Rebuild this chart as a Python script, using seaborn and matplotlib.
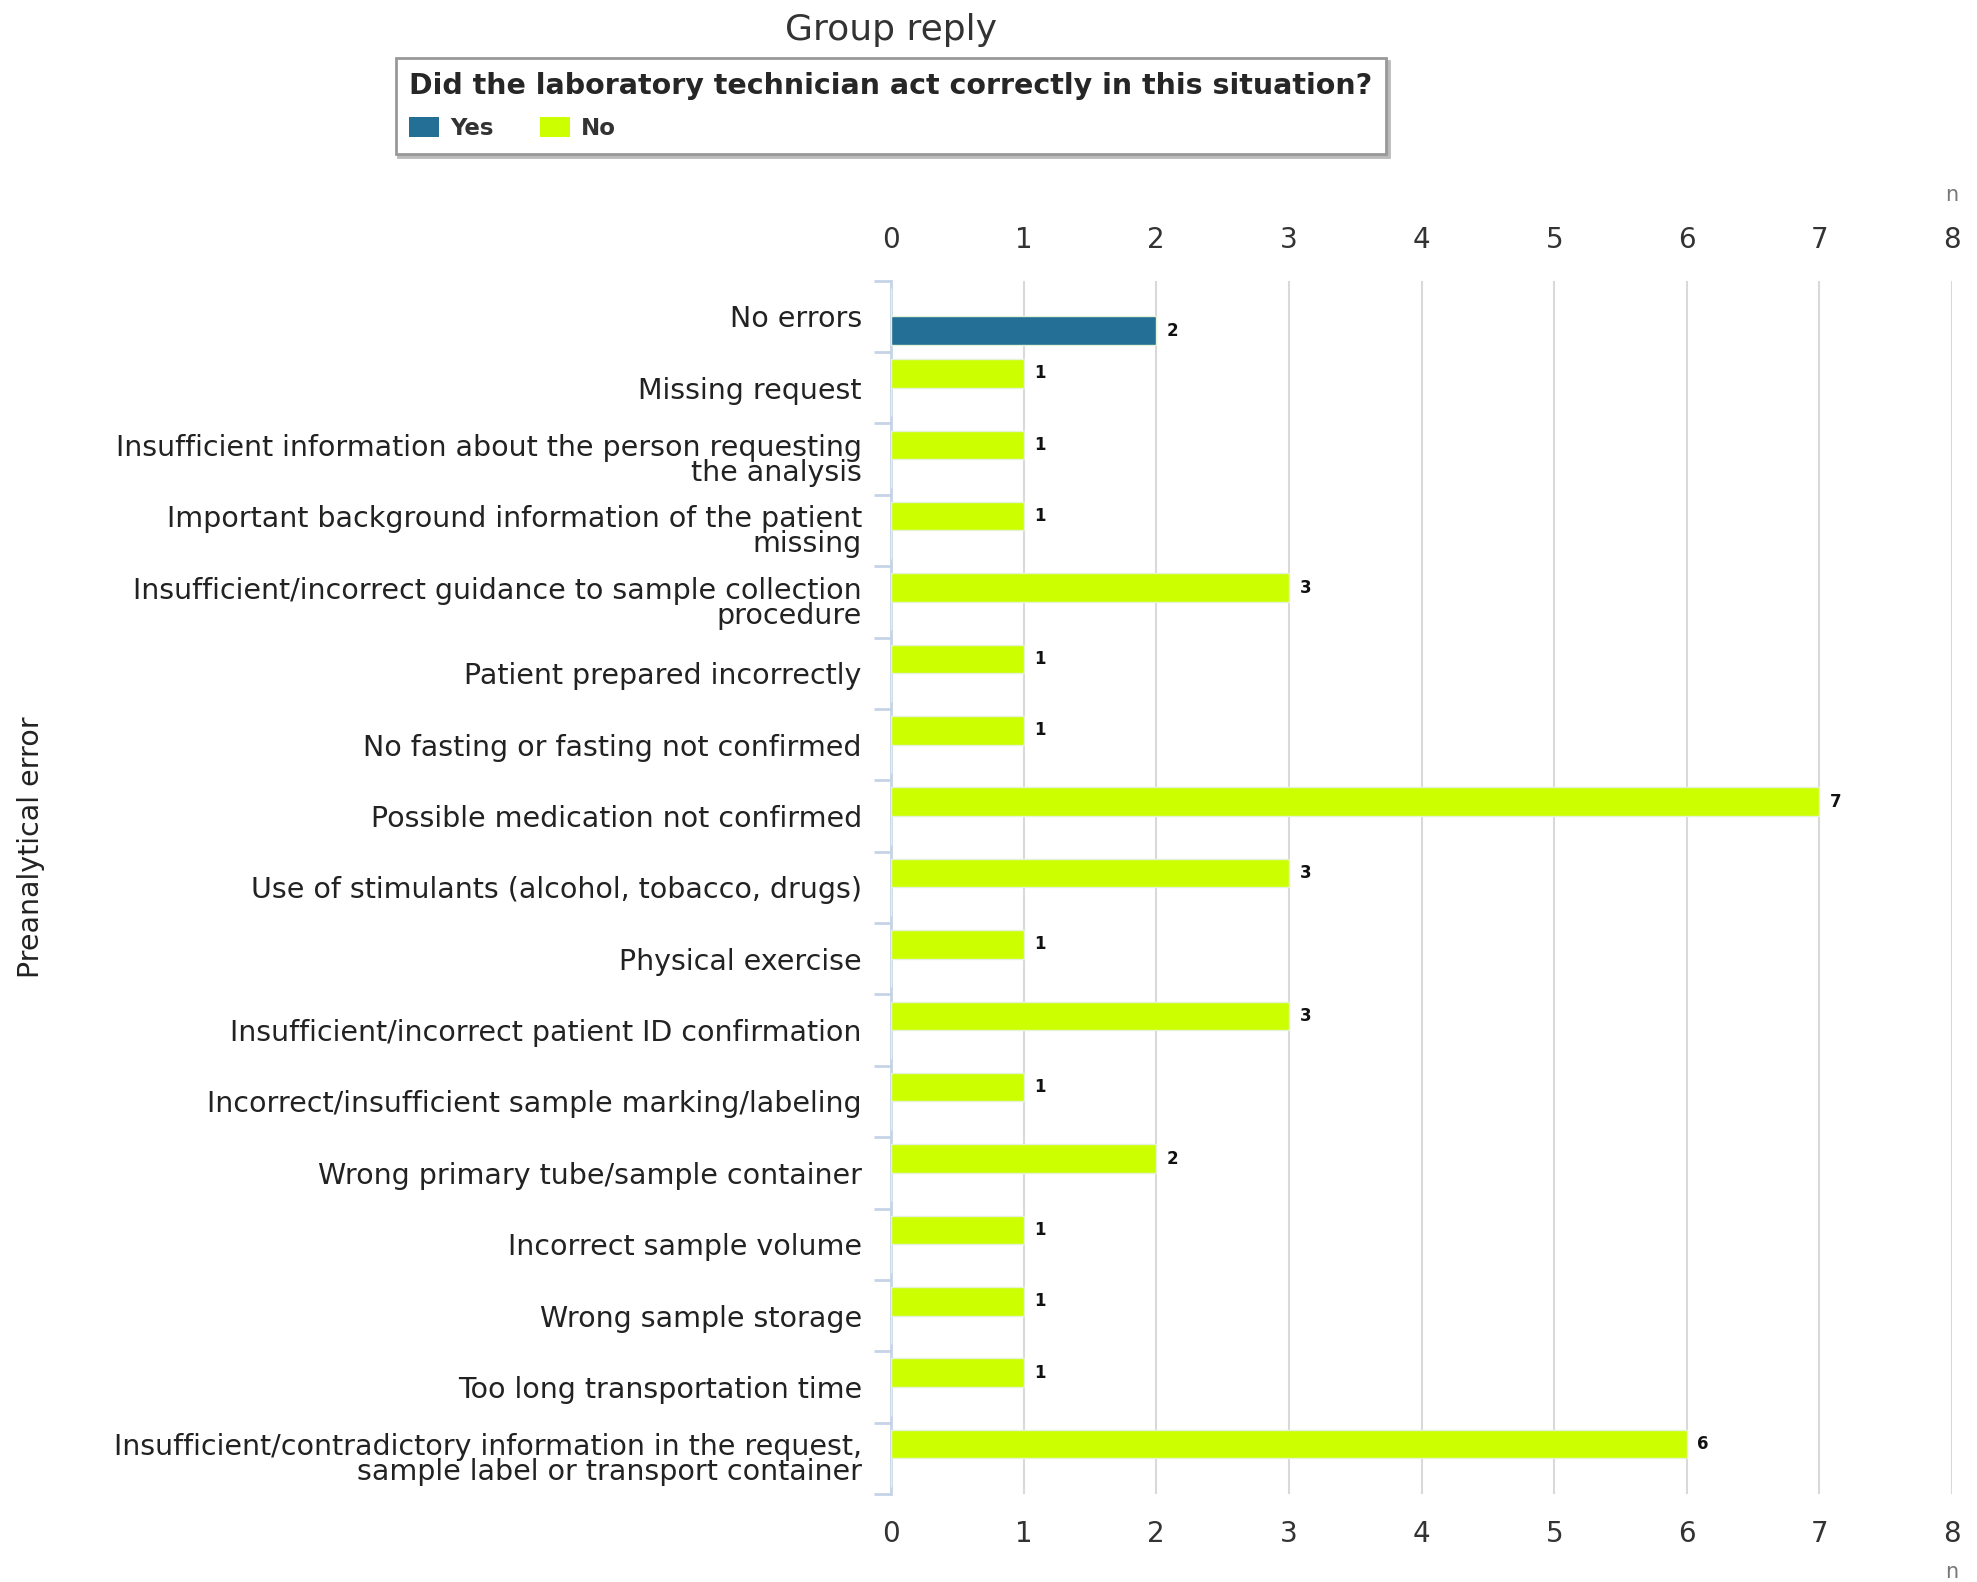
import matplotlib
matplotlib.use("Agg")
import matplotlib.pyplot as plt
from matplotlib.patches import Patch
import seaborn as sns
import pandas as pd
import numpy as np

# -------------------------------
# Data
# -------------------------------
categories = [
    "No errors",
    "Missing request",
    "Insufficient information about the person requesting\nthe analysis",
    "Important background information of the patient\nmissing",
    "Insufficient/incorrect guidance to sample collection\nprocedure",
    "Patient prepared incorrectly",
    "No fasting or fasting not confirmed",
    "Possible medication not confirmed",
    "Use of stimulants (alcohol, tobacco, drugs)",
    "Physical exercise",
    "Insufficient/incorrect patient ID confirmation",
    "Incorrect/insufficient sample marking/labeling",
    "Wrong primary tube/sample container",
    "Incorrect sample volume",
    "Wrong sample storage",
    "Too long transportation time",
    "Insufficient/contradictory information in the request,\nsample label or transport container",
]
yes_counts = [2, 0, 0, 0, 0, 0, 0, 0, 0, 0, 0, 0, 0, 0, 0, 0, 0]
no_counts = [0, 1, 1, 1, 3, 1, 1, 7, 3, 1, 3, 1, 2, 1, 1, 1, 6]
x_ticks = [0, 1, 2, 3, 4, 5, 6, 7, 8]

answers = ["Yes", "No"]
colors = {"Yes": "#236f96", "No": "#ccff00"}

df = pd.concat([
    pd.DataFrame({"category": categories, "answer": "Yes", "n": yes_counts}),
    pd.DataFrame({"category": categories, "answer": "No", "n": no_counts}),
])

# -------------------------------
# Plot
# -------------------------------
sns.set_style("white")
plt.rcParams["font.family"] = ["DejaVu Sans"]

fig = plt.figure(figsize=(19.77, 15.82), dpi=100)
ax = fig.add_axes([0.4507, 0.0556, 0.5367, 0.767])

sns.barplot(data=df, y="category", x="n", hue="answer", hue_order=["No", "Yes"],
            order=categories, palette=colors, saturation=1, orient="h", width=0.8,
            edgecolor="#e6f2d8", linewidth=1.0, legend=False, ax=ax, zorder=3)

# value labels
for cont in ax.containers:
    for bar in cont:
        w = bar.get_width()
        if w > 0:
            ax.text(w + 0.08, bar.get_y() + bar.get_height() / 2, f"{int(w)}",
                    va="center", ha="left", fontsize=12, fontweight="bold",
                    color="#111111", zorder=4)

ax.set_xlim(0, 8)
ax.set_ylim(len(categories) - 0.5, -0.5)
ax.set_xticks(x_ticks)
ax.set_xticklabels([str(t) for t in x_ticks])
ax.xaxis.grid(True, color="#d9d9d9", linewidth=1.5, zorder=0)
ax.yaxis.grid(False)
ax.tick_params(axis="x", which="both", length=0, labelsize=20, labelcolor="#333333",
               top=False, bottom=False, labeltop=True, labelbottom=True, pad=19)
ax.tick_params(axis="y", which="major", left=False, length=0, labelsize=20.5,
               labelcolor="#222222", pad=21)
ax.set_yticks(np.arange(len(categories) + 1) - 0.5, minor=True)
ax.tick_params(axis="y", which="minor", left=True, length=12, width=2, color="#c4d4e6")
for lbl in ax.get_yticklabels():
    lbl.set_linespacing(0.85)

for side in ["top", "right", "bottom"]:
    ax.spines[side].set_visible(False)
ax.spines["left"].set_color("#c4d4e6")
ax.spines["left"].set_linewidth(2)

ax.set_xlabel("")
ax.set_ylabel("")

# axis unit labels
fig.text(0.9874, 1 - 195 / 1582, "n", ha="center", va="center", fontsize=15, color="#777777")
fig.text(0.9874, 1 - 1572 / 1582, "n", ha="center", va="center", fontsize=15, color="#777777")

fig.text(31 / 1977, 1 - 847 / 1582, "Preanalytical error", rotation=90,
         ha="center", va="center", fontsize=20.5, color="#222222")

fig.text(891 / 1977, 1 - 30 / 1582, "Group reply", ha="center", va="center",
         fontsize=26, color="#333333")

handles = [Patch(facecolor=colors[a], edgecolor="none", label=a) for a in answers]
leg = fig.legend(handles=handles, loc="upper center", bbox_to_anchor=(891 / 1977, 1 - 47 / 1582),
                 ncol=2, title="Did the laboratory technician act correctly in this situation?",
                 title_fontproperties={"weight": "bold", "size": 20.5},
                 prop={"weight": "bold", "size": 16.5}, frameon=True, fancybox=False,
                 shadow={"color": "#bbbbbb", "alpha": 1}, edgecolor="#999999",
                 handlelength=1.3, handleheight=1.0,
                 columnspacing=2.0, handletextpad=0.5, borderpad=0.6)
leg._legend_box.align = "left"
leg._legend_box.sep = 12
leg.get_frame().set_linewidth(2)
for t in leg.get_texts():
    t.set_color("#333333")

fig.savefig("out.png", dpi=100)
plt.close(fig)
